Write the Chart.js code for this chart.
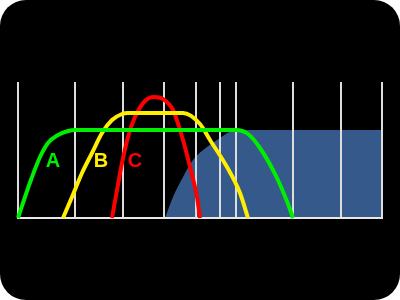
<!DOCTYPE html>
<html>
<head>
<meta charset="utf-8">
<script src="https://cdn.jsdelivr.net/npm/chart.js@4/dist/chart.umd.min.js"></script>
<style>
  html, body { margin: 0; padding: 0; background: #ffffff; }
  #wrap { width: 400px; height: 300px; background: #000000; border-radius: 26px; overflow: hidden; }
  canvas { display: block; }
</style>
</head>
<body>
<div id="wrap"><canvas id="c" width="400" height="300"></canvas></div>
<script>
// Vertical gridline positions (x units)
const gridX = [0, 57, 105, 146, 178, 202, 218, 275, 323, 364];

// Curve A (green)
const aX = [0, 7, 14, 22, 30, 40, 50, 57, 218, 230, 242, 259, 270, 275];
const aY = [0, 21, 41, 61, 75, 83, 87, 88, 88, 84, 70, 40, 14, 0];

// Curve B (yellow)
const bX = [45, 54, 64, 74, 84, 94, 104, 110, 165, 182, 192, 209, 222, 230];
const bY = [0, 21, 45, 65, 85, 98, 104, 105, 105, 94, 78, 51, 25, 0];

// Curve C (red)
const cX = [94, 99, 104, 110, 117, 127, 136, 145, 155, 165, 172, 179, 182];
const cY = [0, 28, 55, 81, 101, 117, 121, 119, 108, 78, 51, 21, 0];

// Filled area (blue)
const fX = [147, 155, 165, 175, 189, 199, 215, 232, 364];
const fY = [0, 21, 41, 58, 71, 78, 87, 88, 88];

// Labels
const labelText = ['A', 'B', 'C'];
const labelX = [35, 83, 117];
const labelY = [57, 57, 57];
const labelColor = ['#00ee00', '#ffee00', '#ff0000'];

const pts = (xs, ys) => xs.map((x, i) => ({ x: x, y: ys[i] }));

const lineDs = (xs, ys, color) => ({
  data: pts(xs, ys),
  showLine: true,
  borderColor: color,
  borderWidth: 4,
  pointRadius: 0,
  cubicInterpolationMode: 'monotone',
  fill: false,
  clip: false
});

const gridOnTop = {
  id: 'gridOnTop',
  afterDatasetDraw(chart, args) {
    if (args.index === 3) {
      chart.scales.x.draw(chart.chartArea);
    }
  }
};

const labelsPlugin = {
  id: 'curveLabels',
  afterDatasetsDraw(chart) {
    const ctx = chart.ctx;
    const xs = chart.scales.x, ys = chart.scales.y;
    ctx.save();
    ctx.font = 'bold 20px "Liberation Sans", Arial, sans-serif';
    ctx.textAlign = 'center';
    ctx.textBaseline = 'middle';
    labelText.forEach((t, i) => {
      ctx.fillStyle = labelColor[i];
      ctx.fillText(t, xs.getPixelForValue(labelX[i]), ys.getPixelForValue(labelY[i]));
    });
    ctx.restore();
  }
};

new Chart(document.getElementById('c'), {
  type: 'scatter',
  data: {
    datasets: [
      lineDs(aX, aY, '#00ee00'),
      lineDs(bX, bY, '#ffee00'),
      lineDs(cX, cY, '#ff0000'),
      {
        data: pts(fX, fY),
        showLine: true,
        borderWidth: 0,
        borderColor: 'rgba(0,0,0,0)',
        backgroundColor: '#34598a',
        pointRadius: 0,
        cubicInterpolationMode: 'monotone',
        fill: 'origin'
      }
    ]
  },
  options: {
    responsive: false,
    devicePixelRatio: 1,
    animation: false,
    layout: { padding: { left: 18, right: 18, top: 82, bottom: 82 } },
    plugins: { legend: { display: false }, tooltip: { enabled: false } },
    scales: {
      x: {
        type: 'linear',
        min: 0,
        max: 364,
        afterBuildTicks: (axis) => { axis.ticks = gridX.map(v => ({ value: v })); },
        ticks: { display: false },
        grid: { color: '#dddddd', lineWidth: 2, drawTicks: false },
        border: { color: '#e8e8e8', width: 2 }
      },
      y: {
        display: false,
        min: 0,
        max: 136
      }
    }
  },
  plugins: [gridOnTop, labelsPlugin]
});
</script>
</body>
</html>
